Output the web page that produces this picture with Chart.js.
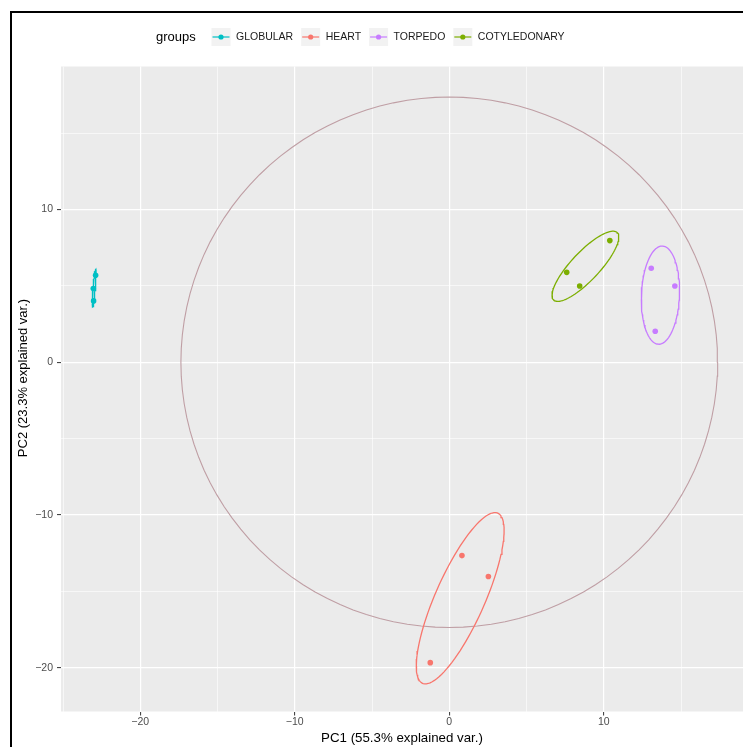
<!DOCTYPE html>
<html>
<head>
<meta charset="utf-8">
<title>PCA biplot</title>
<script src="https://cdn.jsdelivr.net/npm/chart.js@4.4.1/dist/chart.umd.min.js"></script>
<style>
  html, body { margin: 0; padding: 0; background: #fff; overflow: hidden; }
  #wrap { position: relative; width: 743px; height: 747px; overflow: hidden; }
  #c { display: block; }
  #frame { position: absolute; left: 10px; top: 11px; width: 760px; height: 760px;
           border-left: 2px solid #000; border-top: 2px solid #000; pointer-events: none; }
</style>
</head>
<body>
<div id="wrap">
  <canvas id="c" width="743" height="747"></canvas>
  <div id="frame"></div>
</div>
<script>
// Group names and their hue colours
const groups = ['GLOBULAR', 'HEART', 'TORPEDO', 'COTYLEDONARY'];
const groupColors = ['#00BFC4', '#F8766D', '#C77CFF', '#7CAE00'];

// PCA scores per group (PC1, PC2)
const globularPC1 = [-22.89, -23.04, -23.02];
const globularPC2 = [5.70, 4.83, 4.02];
const heartPC1 = [0.82, 2.53, -1.23];
const heartPC2 = [-12.66, -14.03, -19.67];
const torpedoPC1 = [13.07, 14.60, 13.33];
const torpedoPC2 = [6.16, 5.00, 2.03];
const cotyledonaryPC1 = [7.60, 8.44, 10.39];
const cotyledonaryPC2 = [5.89, 5.00, 7.97];

// Axis tick labels (major) and minor grid positions
const xMajorTicks = [-20, -10, 0, 10];
const xMinorTicks = [-25, -15, -5, 5, 15];
const yMajorTicks = [-20, -10, 0, 10];
const yMinorTicks = [-15, -5, 5, 15];

// Correlation circle radius and ellipse probability
const circleRadius = 17.37;
const ellipseProb = 0.68;

const xTitle = 'PC1 (55.3% explained var.)';
const yTitle = 'PC2 (23.3% explained var.)';
const legendTitle = 'groups';

const seriesPC1 = [globularPC1, heartPC1, torpedoPC1, cotyledonaryPC1];
const seriesPC2 = [globularPC2, heartPC2, torpedoPC2, cotyledonaryPC2];

const FONT = "'Liberation Sans', Arial, Helvetica, sans-serif";

function toPoints(xs, ys) { return xs.map((x, i) => ({ x: x, y: ys[i] })); }

// Normal-theory data ellipse: circle * chol(cov) * sqrt(qchisq(p, 2)) + mean
function dataEllipse(xs, ys, prob) {
  const n = xs.length;
  const mx = xs.reduce((a, b) => a + b, 0) / n;
  const my = ys.reduce((a, b) => a + b, 0) / n;
  let sxx = 0, syy = 0, sxy = 0;
  for (let i = 0; i < n; i++) {
    const dx = xs[i] - mx, dy = ys[i] - my;
    sxx += dx * dx; syy += dy * dy; sxy += dx * dy;
  }
  sxx /= (n - 1); syy /= (n - 1); sxy /= (n - 1);
  const r11 = Math.sqrt(sxx), r12 = sxy / r11, r22 = Math.sqrt(Math.max(syy - r12 * r12, 0));
  const ed = Math.sqrt(-2 * Math.log(1 - prob));
  const pts = [];
  for (let k = 0; k <= 100; k++) {
    const t = -Math.PI + 2 * Math.PI * k / 100;
    const c = Math.cos(t), s = Math.sin(t);
    pts.push({ x: mx + ed * c * r11, y: my + ed * (c * r12 + s * r22) });
  }
  return pts;
}

function circlePath(r) {
  const pts = [];
  for (let k = 0; k <= 120; k++) {
    const t = 2 * Math.PI * k / 120;
    pts.push({ x: r * Math.cos(t), y: r * Math.sin(t) });
  }
  return pts;
}

const datasets = [];
groups.forEach((g, i) => {
  datasets.push({
    label: g,
    data: toPoints(seriesPC1[i], seriesPC2[i]),
    showLine: false,
    pointRadius: 2.8,
    pointBackgroundColor: groupColors[i],
    pointBorderWidth: 0,
    order: 0
  });
});
groups.forEach((g, i) => {
  datasets.push({
    label: g + ' ellipse',
    data: dataEllipse(seriesPC1[i], seriesPC2[i], ellipseProb),
    showLine: true,
    borderColor: groupColors[i],
    borderWidth: 1.3,
    pointRadius: 0,
    tension: 0,
    order: 1
  });
});
datasets.push({
  label: 'circle',
  data: circlePath(circleRadius),
  showLine: true,
  borderColor: '#bf9ea4',
  borderWidth: 1.1,
  pointRadius: 0,
  order: 2
});

// Grey panel background
const panelBg = {
  id: 'panelBg',
  beforeDraw(chart) {
    const { ctx, chartArea: a } = chart;
    ctx.save();
    ctx.fillStyle = '#EBEBEB';
    ctx.fillRect(a.left, a.top, a.right - a.left, a.bottom - a.top);
    ctx.restore();
  }
};

// Legend across the top (title, then key boxes with line + point) and the PC2 axis title
const annotations = {
  id: 'annotations',
  afterDraw(chart) {
    const ctx = chart.ctx;
    const cy = 37;
    ctx.save();
    ctx.textBaseline = 'middle';
    ctx.textAlign = 'left';
    ctx.fillStyle = '#000';
    ctx.font = '13px ' + FONT;
    ctx.fillText(legendTitle, 156, cy);
    let x = 211.5;
    ctx.font = '10.5px ' + FONT;
    groups.forEach((g, i) => {
      ctx.fillStyle = '#F2F2F2';
      ctx.fillRect(x, cy - 9, 19, 18);
      ctx.strokeStyle = groupColors[i];
      ctx.lineWidth = 1.2;
      ctx.beginPath();
      ctx.moveTo(x + 1, cy);
      ctx.lineTo(x + 18, cy);
      ctx.stroke();
      ctx.fillStyle = groupColors[i];
      ctx.beginPath();
      ctx.arc(x + 9.5, cy, 2.6, 0, Math.PI * 2);
      ctx.fill();
      ctx.fillStyle = '#1a1a1a';
      ctx.fillText(g, x + 24.5, cy);
      x += 24.5 + ctx.measureText(g).width + 8;
    });

    // vertical axis title
    ctx.translate(23, 378);
    ctx.rotate(-Math.PI / 2);
    ctx.textAlign = 'center';
    ctx.fillStyle = '#000';
    ctx.font = '13px ' + FONT;
    ctx.fillText(yTitle, 0, 0);
    ctx.restore();
  }
};

function minusLabel(v) { return v < 0 ? '\u2212' + Math.abs(v) : String(v); }

function axisTicks(major, minor) {
  return function (scale) {
    scale.ticks = major.concat(minor).sort((a, b) => a - b).map(v => ({ value: v }));
  };
}

const isMajor = (major) => (ctx) => ctx.tick && major.includes(ctx.tick.value);

new Chart(document.getElementById('c'), {
  type: 'scatter',
  data: { datasets: datasets },
  plugins: [panelBg, annotations],
  options: {
    responsive: false,
    animation: false,
    devicePixelRatio: 1,
    layout: { autoPadding: false, padding: { top: 66.5, left: 0, right: 0, bottom: 0 } },
    plugins: { legend: { display: false }, tooltip: { enabled: false } },
    scales: {
      x: {
        type: 'linear',
        min: -25.13,
        max: 19.01,
        afterBuildTicks: axisTicks(xMajorTicks, xMinorTicks),
        afterFit(scale) { scale.height = 35.5; scale.paddingLeft = 0; scale.paddingRight = 0; },
        border: { display: false },
        grid: {
          color: '#FFFFFF',
          lineWidth: (c) => isMajor(xMajorTicks)(c) ? 1.2 : 0.6,
          tickColor: (c) => isMajor(xMajorTicks)(c) ? '#333333' : 'rgba(0,0,0,0)',
          tickLength: 4,
          tickWidth: 1
        },
        ticks: {
          autoSkip: false,
          maxRotation: 0,
          padding: 0,
          color: '#4D4D4D',
          font: { family: FONT, size: 10.5 },
          callback: (v) => xMajorTicks.includes(v) ? minusLabel(v) : ''
        },
        title: {
          display: true,
          text: xTitle,
          color: '#000',
          font: { family: FONT, size: 13.3 },
          padding: { top: 0, bottom: 1 }
        }
      },
      y: {
        type: 'linear',
        min: -22.87,
        max: 19.37,
        afterBuildTicks: axisTicks(yMajorTicks, yMinorTicks),
        afterFit(scale) { scale.width = 61; scale.paddingTop = 0; scale.paddingBottom = 0; },
        border: { display: false },
        grid: {
          color: '#FFFFFF',
          lineWidth: (c) => isMajor(yMajorTicks)(c) ? 1.2 : 0.6,
          tickColor: (c) => isMajor(yMajorTicks)(c) ? '#333333' : 'rgba(0,0,0,0)',
          tickLength: 4,
          tickWidth: 1
        },
        ticks: {
          autoSkip: false,
          padding: 4,
          color: '#4D4D4D',
          font: { family: FONT, size: 10.5 },
          callback: (v) => yMajorTicks.includes(v) ? minusLabel(v) : ''
        },
        title: { display: false }
      }
    }
  }
});
</script>
</body>
</html>
